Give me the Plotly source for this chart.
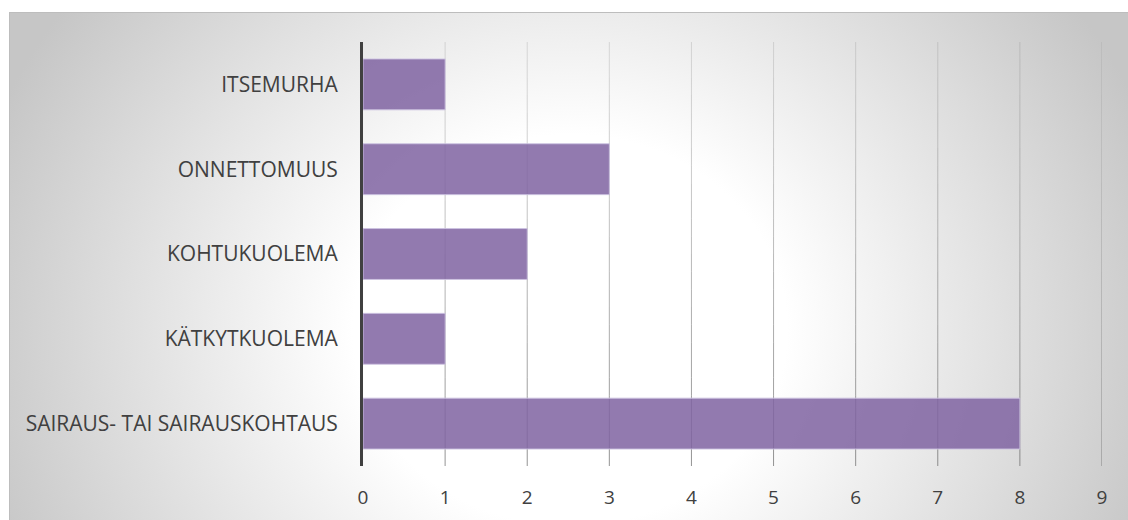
import base64
import plotly.graph_objects as go

categories = ["SAIRAUS- TAI SAIRAUSKOHTAUS", "KÄTKYTKUOLEMA", "KOHTUKUOLEMA", "ONNETTOMUUS", "ITSEMURHA"]
values = [8, 1, 2, 3, 1]
x_ticks = [0, 1, 2, 3, 4, 5, 6, 7, 8, 9]

W, H = 1128, 520
L, R, T, B = 363, 26, 42, 54
PW, PH = W - L - R, H - T - B
EX = 60  # extra image width/height beyond the figure

IW, IH = W + EX, H + EX
svg = f'''<svg xmlns="http://www.w3.org/2000/svg" width="{IW}" height="{IH}" viewBox="0 0 {IW} {IH}">
<defs>
<radialGradient id="g" gradientUnits="userSpaceOnUse" cx="0" cy="0" r="620" gradientTransform="translate(570,330) scale(1,0.9)">
<stop offset="0" stop-color="#ffffff"/>
<stop offset="0.35" stop-color="#ffffff"/>
<stop offset="1" stop-color="#c6c6c6"/>
</radialGradient>
</defs>
<rect x="0" y="0" width="{IW}" height="{IH}" fill="#ffffff"/>
<rect x="9.5" y="12.5" width="{IW}" height="{IH}" fill="url(#g)" stroke="#bdbdbd" stroke-width="1"/>
</svg>'''
src = "data:image/svg+xml;base64," + base64.b64encode(svg.encode()).decode()

fig = go.Figure()
fig.add_trace(go.Bar(
    y=categories, x=values, orientation="h",
    marker=dict(color="rgba(128,100,162,0.86)", line=dict(color="rgba(205,195,225,0.9)", width=1)),
    hoverinfo="skip",
))

# gradient gridlines (light at top, darker at bottom)
nseg = 24
shapes = []
for v in x_ticks[1:]:
    for i in range(nseg):
        y0 = i / nseg
        y1 = (i + 1) / nseg
        a = 0.70 - 0.52 * (y0 + y1) / 2
        shapes.append(dict(type="line", xref="x", yref="paper", x0=v, x1=v, y0=y0, y1=y1,
                           line=dict(color=f"rgba(100,100,100,{a:.3f})", width=1), layer="below"))

fig.update_layout(
    width=W, height=H,
    margin=dict(l=L, r=R, t=T, b=B, autoexpand=False),
    paper_bgcolor="#d2d2d2", plot_bgcolor="rgba(0,0,0,0)",
    showlegend=False, bargap=0.4,
    font=dict(family="Open Sans", color="#404040"),
    shapes=shapes,
    images=[dict(source=src, xref="paper", yref="paper",
                 x=-L / PW, y=1 + T / PH, sizex=IW / PW, sizey=IH / PH,
                 xanchor="left", yanchor="top", sizing="stretch", layer="below")],
    xaxis=dict(range=[0, 9], tickvals=x_ticks, ticktext=[str(t) for t in x_ticks],
               showgrid=False, zeroline=False, showline=False, ticks="", automargin=False,
               tickfont=dict(size=19, color="#404040"), ticklabelstandoff=18, fixedrange=True),
    yaxis=dict(categoryorder="array", categoryarray=categories, showgrid=False, zeroline=False,
               showline=True, linecolor="#404040", linewidth=3, ticks="", automargin=False,
               tickfont=dict(size=21, color="#404040"), ticklabelstandoff=18, fixedrange=True),
)

fig.write_html("out.html", config={"displayModeBar": False},
               post_script="document.body.style.margin='0';document.body.style.overflow='hidden';"
                           "document.body.style.background='#d2d2d2';")
